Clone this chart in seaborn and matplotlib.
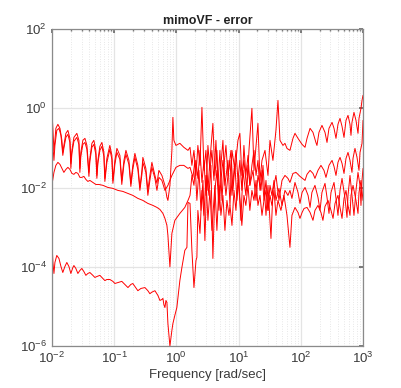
import matplotlib
matplotlib.use("Agg")
import numpy as np
import pandas as pd
import seaborn as sns
import matplotlib.pyplot as plt
from matplotlib.ticker import LogLocator, NullLocator

# error curves of the mimoVF fit (freq in rad/s)
freq_a = [0.0100, 0.0104, 0.0108, 0.0112, 0.0116, 0.0125, 0.0135, 0.0145, 0.0150, 0.0156,
          0.0168, 0.0181, 0.0195, 0.0202, 0.0210, 0.0226, 0.0252, 0.0272, 0.0282, 0.0292,
          0.0315, 0.0340, 0.0366, 0.0394, 0.0408, 0.0440, 0.0473, 0.0509, 0.0529, 0.0549,
          0.0591, 0.0637, 0.0686, 0.0711, 0.0766, 0.0855, 0.0922, 0.0957, 0.103, 0.111,
          0.124, 0.133, 0.144, 0.155, 0.173, 0.186, 0.200, 0.216, 0.241, 0.260,
          0.280, 0.290, 0.324, 0.349, 0.376, 0.405, 0.453, 0.488, 0.525, 0.586,
          0.656, 0.706, 0.733, 0.789, 0.849, 0.881, 0.914, 0.986, 1.14, 1.32,
          1.54, 1.66, 1.78, 1.92, 2.07, 2.22, 2.40, 2.58, 2.78, 2.99,
          3.22, 3.47, 3.87, 4.17, 4.49, 4.84, 5.21, 5.61, 6.04, 6.76,
          7.28, 7.84, 8.75, 9.78, 10.5, 11.3, 12.2, 13.6, 14.7, 16.4,
          17.7, 19.1, 20.5, 22.1, 23.8, 26.6, 29.7, 32.0, 35.7, 39.9,
          43.0, 46.3, 51.7, 55.7, 60.0, 67.0, 74.9, 80.7, 90.2, 105,
          117, 126, 141, 157, 175, 182, 196, 219, 245, 264,
          284, 318, 342, 368, 396, 427, 460, 495, 533, 574,
          618, 641, 665, 716, 771, 831, 862, 928, 964, 1000]
err_a = [1.0, 0.278, 0.087, 0.156, 0.313, 0.395, 0.313, 0.156, 0.0774, 0.116,
         0.234, 0.278, 0.175, 0.0409, 0.087, 0.185, 0.234, 0.156, 0.0305, 0.0774,
         0.156, 0.175, 0.116, 0.0242, 0.0546, 0.131, 0.156, 0.087, 0.0203, 0.0486,
         0.110, 0.138, 0.0774, 0.0171, 0.0546, 0.116, 0.065, 0.0152, 0.0486, 0.0977,
         0.065, 0.0152, 0.0486, 0.087, 0.0486, 0.0128, 0.0364, 0.0731, 0.0364, 0.0101,
         0.0272, 0.0579, 0.0305, 0.0085, 0.0203, 0.0433, 0.0203, 0.0128, 0.0272, 0.0203,
         0.0114, 0.00566, 0.00475, 0.0114, 0.087, 0.593, 0.156, 0.116, 0.131, 0.104,
         0.087, 0.104, 0.0364, 0.087, 0.0203, 0.116, 0.0364, 1.06, 0.0272, 0.087,
         0.0085, 0.0486, 0.418, 0.0203, 0.087, 0.00475, 0.0364, 0.156, 0.0114, 0.0486,
         0.00355, 0.087, 0.0272, 0.156, 0.234, 0.0203, 0.0486, 0.0085, 0.087, 1.0,
         0.0272, 0.116, 0.418, 0.0152, 0.0486, 0.087, 0.0203, 0.156, 0.0486, 0.278,
         1.59, 0.156, 0.116, 0.131, 0.0977, 0.087, 0.175, 0.234, 0.175, 0.123,
         0.104, 0.175, 0.313, 0.248, 0.138, 0.116, 0.248, 0.372, 0.248, 0.138,
         0.313, 0.443, 0.313, 0.175, 0.395, 0.559, 0.351, 0.185, 0.498, 0.666,
         0.395, 0.208, 0.443, 0.792, 0.498, 0.234, 0.559, 1.0, 1.59, 2.13]

freq_b = [0.0100, 0.0104, 0.0108, 0.0112, 0.0120, 0.0130, 0.0140, 0.0150, 0.0156, 0.0168,
          0.0181, 0.0195, 0.0202, 0.0210, 0.0226, 0.0252, 0.0272, 0.0282, 0.0292, 0.0315,
          0.0340, 0.0366, 0.0394, 0.0408, 0.0440, 0.0473, 0.0509, 0.0529, 0.0549, 0.0591,
          0.0637, 0.0686, 0.0711, 0.0766, 0.0855, 0.0922, 0.0957, 0.103, 0.111, 0.124,
          0.133, 0.144, 0.155, 0.173, 0.186, 0.200, 0.216, 0.241, 0.260, 0.280,
          0.290, 0.324, 0.349, 0.376, 0.405, 0.453, 0.488, 0.525, 0.586, 0.656,
          0.733, 0.849, 0.986, 1.14, 1.32, 1.54, 1.66, 1.85, 1.99, 2.14,
          2.31, 2.49, 2.68, 2.88, 3.10, 3.34, 3.60, 3.87, 4.17, 4.49,
          4.84, 5.21, 5.61, 6.27, 6.76, 7.55, 8.13, 8.75, 9.42, 10.1,
          10.9, 11.8, 13.1, 14.2, 15.2, 17.1, 19.1, 20.5, 22.9, 24.7,
          27.6, 29.7, 33.2, 35.7, 39.9, 44.6, 49.9, 55.7, 62.2, 67.0,
          74.9, 83.8, 97.1, 117, 126, 141, 157, 169, 189, 211,
          236, 254, 284, 318, 342, 368, 396, 427, 460, 495,
          533, 574, 618, 665, 691, 743, 801, 862, 895, 964, 1000]
err_b = [0.372, 0.116, 0.0486, 0.116, 0.278, 0.313, 0.208, 0.065, 0.0977, 0.185,
         0.221, 0.138, 0.0305, 0.0731, 0.147, 0.185, 0.123, 0.0242, 0.0614, 0.123,
         0.138, 0.0922, 0.0192, 0.0459, 0.104, 0.123, 0.0689, 0.0171, 0.0409, 0.087,
         0.110, 0.0614, 0.0143, 0.0433, 0.0922, 0.0515, 0.0128, 0.0385, 0.0774, 0.0515,
         0.0120, 0.0385, 0.0689, 0.0385, 0.0107, 0.0288, 0.0579, 0.0288, 0.0085, 0.0216,
         0.0433, 0.0242, 0.00636, 0.0152, 0.0324, 0.0171, 0.0085, 0.0181, 0.0152, 0.0085,
         0.0114, 0.0203, 0.0324, 0.0364, 0.0364, 0.0305, 0.0324, 0.0181, 0.0486, 0.00475,
         0.0272, 0.00266, 0.0152, 4.6e-4, 0.0203, 0.00636, 0.0364, 1.63e-4, 0.0085, 0.0272,
         0.00266, 0.0152, 0.0486, 0.00636, 0.0203, 0.087, 0.0085, 0.0364, 0.00475, 0.0203,
         0.00149, 0.0272, 0.00636, 0.0364, 0.0114, 0.0272, 0.00475, 0.0203, 0.0085, 0.0364,
         0.00199, 0.0114, 5.2e-4, 0.0085, 0.0203, 0.00475, 0.0152, 0.0203, 0.0171, 0.0135,
         0.0228, 0.0242, 0.0192, 0.0152, 0.0216, 0.0272, 0.0228, 0.0171, 0.0272, 0.0364,
         0.0272, 0.0181, 0.0364, 0.0486, 0.0343, 0.0203, 0.0433, 0.0579, 0.0409, 0.0228,
         0.0546, 0.0774, 0.0486, 0.0242, 0.0546, 0.0977, 0.0579, 0.0272, 0.0774, 0.131, 0.498]

freq_c = [0.0100, 0.0108, 0.0116, 0.0125, 0.0135, 0.0145, 0.0156, 0.0168, 0.0181, 0.0195,
          0.0210, 0.0226, 0.0243, 0.0262, 0.0282, 0.0303, 0.0327, 0.0352, 0.0379, 0.0408,
          0.0456, 0.0509, 0.0570, 0.0661, 0.0794, 0.0957, 0.115, 0.138, 0.167, 0.200,
          0.241, 0.290, 0.349, 0.421, 0.488, 0.545, 0.609, 0.656, 0.706, 0.733,
          0.760, 0.789, 0.818, 0.849, 0.948, 1.14, 1.37, 1.54, 1.66, 1.78,
          1.92, 2.07, 2.22, 2.40, 2.58, 2.78, 2.99, 3.22, 3.47, 3.73,
          4.02, 4.33, 4.66, 5.02, 5.41, 5.82, 6.27, 6.76, 7.28, 7.84,
          8.44, 9.08, 9.78, 10.5, 11.3, 12.2, 13.1, 14.2, 15.2, 16.4,
          17.7, 19.1, 20.5, 22.1, 23.8, 25.6, 27.6, 29.7, 32.0, 34.4,
          37.1, 39.9, 44.6, 49.9, 55.7, 62.2, 67.0, 72.1, 80.7, 90.2,
          97.1, 105, 117, 131, 141, 151, 169, 189, 204, 219,
          245, 264, 284, 306, 342, 368, 396, 427, 460, 514,
          553, 574, 618, 665, 716, 771, 831, 895, 928, 964, 1000]
err_c = [0.0114, 0.0242, 0.0364, 0.0433, 0.0385, 0.0305, 0.0242, 0.0288, 0.0324, 0.0288,
         0.0228, 0.0216, 0.0242, 0.0228, 0.0181, 0.0181, 0.0192, 0.0161, 0.0143, 0.0152,
         0.0135, 0.0120, 0.0120, 0.0114, 0.0101, 0.00955, 0.0085, 0.00802, 0.00714, 0.00636,
         0.00534, 0.00475, 0.00399, 0.00355, 0.00316, 0.00281, 0.00223, 0.00167, 0.00111, 6.2e-4,
         2.6e-4, 1.0e-4, 2.6e-4, 7.0e-4, 0.00149, 0.00223, 0.00316, 0.00475, 0.00636, 0.0203,
         0.0114, 0.0486, 0.0171, 0.087, 0.0135, 0.0486, 0.00636, 0.116, 0.0272, 0.087,
         0.0152, 0.156, 0.0114, 0.087, 0.00475, 0.0364, 0.116, 0.0203, 0.0486, 0.00636,
         0.0272, 0.087, 0.0152, 0.0486, 0.0085, 0.116, 0.0203, 0.065, 0.0114, 0.0364,
         0.087, 0.0203, 0.0486, 0.0085, 0.0272, 0.00475, 0.0152, 0.00266, 0.0114, 0.00636,
         0.0152, 0.00475, 0.00955, 0.00355, 0.0085, 0.00636, 0.0085, 0.00534, 0.0135, 0.00757,
         0.00399, 0.00757, 0.0101, 0.00636, 0.00316, 0.00757, 0.0114, 0.00566, 0.00266, 0.00757,
         0.0128, 0.00566, 0.00223, 0.00757, 0.0135, 0.00534, 0.00199, 0.0085, 0.0171, 0.00534,
         0.00177, 0.00636, 0.0203, 0.00636, 0.00199, 0.0085, 0.0242, 0.0114, 0.00355, 0.0152, 0.0305]

freq_d = [0.0100, 0.0104, 0.0108, 0.0112, 0.0120, 0.0130, 0.0140, 0.0150, 0.0162, 0.0174,
          0.0188, 0.0202, 0.0218, 0.0226, 0.0243, 0.0262, 0.0282, 0.0303, 0.0327, 0.0352,
          0.0379, 0.0408, 0.0456, 0.0491, 0.0529, 0.0591, 0.0637, 0.0711, 0.0766, 0.0855,
          0.0957, 0.103, 0.115, 0.133, 0.149, 0.167, 0.186, 0.200, 0.216, 0.241,
          0.270, 0.313, 0.349, 0.376, 0.405, 0.453, 0.506, 0.545, 0.586, 0.609,
          0.632, 0.656, 0.681, 0.706, 0.733, 0.789, 0.849, 0.881, 0.948, 1.02,
          1.14, 1.23, 1.37, 1.48, 1.54, 1.66, 1.78, 1.92, 2.07, 2.14,
          2.22, 2.40, 2.58, 2.78, 2.99, 3.22, 3.47, 3.73, 4.02, 4.17,
          4.49, 4.84, 5.21, 5.61, 6.04, 6.51, 7.01, 7.28, 7.84, 8.44,
          9.08, 9.78, 10.5, 11.3, 12.2, 13.1, 14.2, 15.2, 16.4, 17.7,
          19.1, 20.5, 22.1, 23.8, 25.6, 27.6, 29.7, 32.0, 34.4, 37.1,
          39.9, 43.0, 48.0, 53.7, 60.0, 67.0, 72.1, 80.7, 90.2, 97.1,
          105, 113, 126, 141, 157, 169, 189, 211, 227, 245,
          274, 306, 330, 355, 396, 427, 460, 495, 533, 574,
          618, 641, 691, 771, 831, 862, 928, 964, 1000]
err_d = [4.6e-4, 1.29e-4, 6.8e-5, 1.29e-4, 1.94e-4, 1.63e-4, 1.02e-4, 7.2e-5, 1.02e-4, 1.29e-4,
         1.02e-4, 6.8e-5, 9.7e-5, 1.08e-4, 9.1e-5, 6.8e-5, 8.1e-5, 9.1e-5, 7.6e-5, 6.1e-5,
         6.8e-5, 7.2e-5, 6.1e-5, 5.4e-5, 5.7e-5, 6.1e-5, 5.4e-5, 4.5e-5, 4.8e-5, 4.8e-5,
         4.3e-5, 3.8e-5, 4.0e-5, 4.3e-5, 3.6e-5, 3.0e-5, 3.6e-5, 3.8e-5, 3.2e-5, 2.5e-5,
         2.85e-5, 3.0e-5, 2.5e-5, 2.1e-5, 2.3e-5, 2.5e-5, 1.9e-5, 1.42e-5, 1.5e-5, 1.6e-5,
         1.1e-5, 9.4e-6, 1.42e-5, 1.27e-5, 3.7e-6, 1.0e-6, 2.5e-6, 3.7e-6, 6.0e-6, 9.4e-6,
         4.5e-5, 9.7e-5, 2.6e-4, 3.1e-4, 0.00423, 0.00399, 2.6e-4, 3.0e-5, 1.45e-4, 1.73e-4,
         0.00266, 7.0e-4, 0.0085, 0.00199, 0.0203, 0.00149, 0.0085, 8.3e-4, 0.00475, 0.0114,
         8.3e-4, 0.0114, 0.00199, 0.00636, 8.3e-4, 0.00475, 0.00199, 0.00355, 0.00111, 0.0085,
         0.00266, 0.0152, 0.00475, 0.00111, 0.00636, 0.00355, 0.0114, 0.00266, 0.0085, 0.00475,
         0.0152, 0.00355, 0.00636, 0.00199, 0.00475, 0.0085, 0.00266, 0.00636, 0.00355, 0.0085,
         0.00199, 0.00475, 0.00266, 0.00636, 0.00199, 3.1e-4, 0.00199, 0.00316, 0.00236, 0.00167,
         0.00236, 0.00298, 0.00316, 0.00236, 0.00149, 0.00266, 0.00355, 0.00236, 0.00149, 0.00335,
         0.00475, 0.00266, 0.00167, 0.00399, 0.00636, 0.00316, 0.00167, 0.00534, 0.0085, 0.00355,
         0.00199, 0.00636, 0.0114, 0.00475, 0.00223, 0.00757, 0.0152, 0.0085, 0.00475]

curves = [("A", freq_a, err_a), ("B", freq_b, err_b),
          ("C", freq_c, err_c), ("D", freq_d, err_d)]
df = pd.concat([pd.DataFrame({"freq": f, "err": e, "curve": name}) for name, f, e in curves],
               ignore_index=True)

sns.set_theme(style="white")
plt.rcParams["font.family"] = ["Liberation Sans", "DejaVu Sans"]
plt.rcParams["mathtext.default"] = "regular"

fig = plt.figure(figsize=(4.02, 3.88), dpi=100)
ax = fig.add_axes([0.129, 0.108, 0.774, 0.817])

sns.lineplot(data=df, x="freq", y="err", hue="curve", palette=["#ff0000"] * 4,
             sort=False, estimator=None, legend=False, lw=0.7, ax=ax)

ax.set_xscale("log")
ax.set_yscale("log")
ax.set_xlim(1e-2, 1e3)
ax.set_ylim(1e-6, 1e2)
ax.set_yticks([1e-6, 1e-4, 1e-2, 1e0, 1e2])
ax.yaxis.set_minor_locator(NullLocator())
ax.xaxis.set_major_locator(LogLocator(base=10, numticks=10))
ax.xaxis.set_minor_locator(LogLocator(base=10, subs=np.arange(2, 10), numticks=20))

ax.set_axisbelow(True)
ax.grid(True, which="major", color="#e4e4e4", lw=0.9, ls="-")
ax.grid(True, which="minor", axis="x", color="#d2d2d2", lw=0.5, ls=(0, (1, 2.5)))

for s in ax.spines.values():
    s.set_color("#8a8a8a")
    s.set_linewidth(0.9)
ax.tick_params(which="both", direction="in", top=True, right=True,
               color="#6a6a6a", labelcolor="#3a3a3a", labelsize=9.5)
ax.tick_params(which="major", length=3)
ax.tick_params(which="minor", length=1.5)

ax.set_title("mimoVF - error", fontsize=9, fontweight="bold", color="#222222", pad=4)
ax.set_xlabel("Frequency [rad/sec]", fontsize=9.5, color="#3a3a3a", labelpad=2)
ax.set_ylabel("")

fig.savefig("out.png", dpi=100)
